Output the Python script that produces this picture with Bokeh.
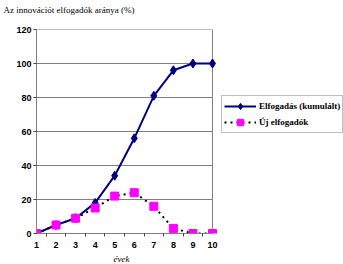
from bokeh.plotting import figure
from bokeh.models import Range1d, Legend, LegendItem, FixedTicker, Title
from bokeh.embed import file_html
from bokeh.resources import INLINE

years = [1, 2, 3, 4, 5, 6, 7, 8, 9, 10]
cumulative = [0, 5, 9, 18, 34, 56, 81, 96, 100, 100]
new_adopters = [0, 5, 9, 15, 22, 24, 16, 3, 0, 0]
y_ticks = [0, 20, 40, 60, 80, 100, 120]
title_text = "Az innovációt elfogadók aránya (%)"
x_label = "évek"
series_names = ["Elfogadás (kumulált)", "Új elfogadók"]

# frame extends to the right edge (legend lives there); 1..10 x 0..120 is the plot area
p = figure(width=343, height=264, output_backend="svg", toolbar_location=None,
           x_range=Range1d(1, 16.70), y_range=Range1d(0, 120),
           min_border_left=36, min_border_right=0, min_border_top=29, min_border_bottom=31)
p.background_fill_color = "white"
p.border_fill_color = "white"
p.outline_line_color = None

p.title.text = title_text
p.title.text_font = "Liberation Serif"
p.title.text_font_style = "normal"
p.title.text_font_size = "9px"
p.title.text_color = "black"
p.title.align = "left"
p.title.vertical_align = "top"
p.title.offset = -33
p.title.standoff = 0

# empty spacer between title and plot area
spacer = Title(text=" ", text_font_size="10px", standoff=0)
p.add_layout(spacer, "above")

p.xgrid.grid_line_color = None
p.ygrid.grid_line_color = None

# plot-area gridlines and right border, limited to the 1..10 span
p.segment(x0=[years[0]] * len(y_ticks), y0=y_ticks, x1=[years[-1]] * len(y_ticks), y1=y_ticks,
          line_color="#808080", line_width=1)
p.segment(x0=[years[-1]], y0=[y_ticks[0]], x1=[years[-1]], y1=[y_ticks[-1]],
          line_color="#808080", line_width=1)

p.yaxis.ticker = FixedTicker(ticks=y_ticks)
p.xaxis.ticker = FixedTicker(ticks=years, minor_ticks=[y + 0.5 for y in years[:-1]])
p.yaxis.bounds = (y_ticks[0], y_ticks[-1])
p.xaxis.bounds = (years[0], years[-1])
for ax in (p.xaxis[0], p.yaxis[0]):
    ax.axis_line_color = "#808080"
    ax.axis_line_width = 1
    ax.major_tick_line_color = "#404040"
    ax.major_tick_in = 0
    ax.major_tick_out = 3
    ax.minor_tick_line_color = None
    ax.major_label_text_font = "Liberation Sans"
    ax.major_label_text_font_style = "bold"
    ax.major_label_text_font_size = "9px"
    ax.major_label_text_color = "black"
    ax.major_label_standoff = 2
p.xaxis.major_tick_out = 0
p.xaxis.major_label_standoff = 5
p.xaxis.minor_tick_line_color = "#404040"
p.xaxis.minor_tick_in = 0
p.xaxis.minor_tick_out = 3

xlab = Title(text=x_label, text_font="Liberation Serif", text_font_style="italic",
             text_font_size="9px", text_color="black", align="left", offset=77,
             vertical_align="bottom", standoff=2)
p.add_layout(xlab, "below")

r1l = p.line(years, cumulative, line_color="#000080", line_width=2)
r1m = p.scatter(years, cumulative, marker="diamond", size=9, fill_color="#000080", line_color="#000080")
r2l = p.line(years, new_adopters, line_color="black", line_width=2, line_dash="2 4")
r2m = p.scatter(years, new_adopters, marker="square", size=8, fill_color="#FF00FF", line_color="#FF00FF")

legend = Legend(items=[LegendItem(label=series_names[0], renderers=[r1l, r1m]),
                       LegendItem(label=series_names[1], renderers=[r2l, r2m])],
                location=(185, 100))
legend.border_line_color = "#808080"
legend.border_line_width = 1
legend.background_fill_color = "white"
legend.padding = 2
legend.margin = 0
legend.spacing = 0
legend.glyph_width = 32
legend.glyph_height = 16
legend.label_height = 16
legend.label_standoff = 3
legend.label_text_font = "Liberation Serif"
legend.label_text_font_style = "bold"
legend.label_text_font_size = "9px"
legend.label_text_color = "black"
p.add_layout(legend, "center")

open("out.html", "w").write(file_html(p, INLINE))
